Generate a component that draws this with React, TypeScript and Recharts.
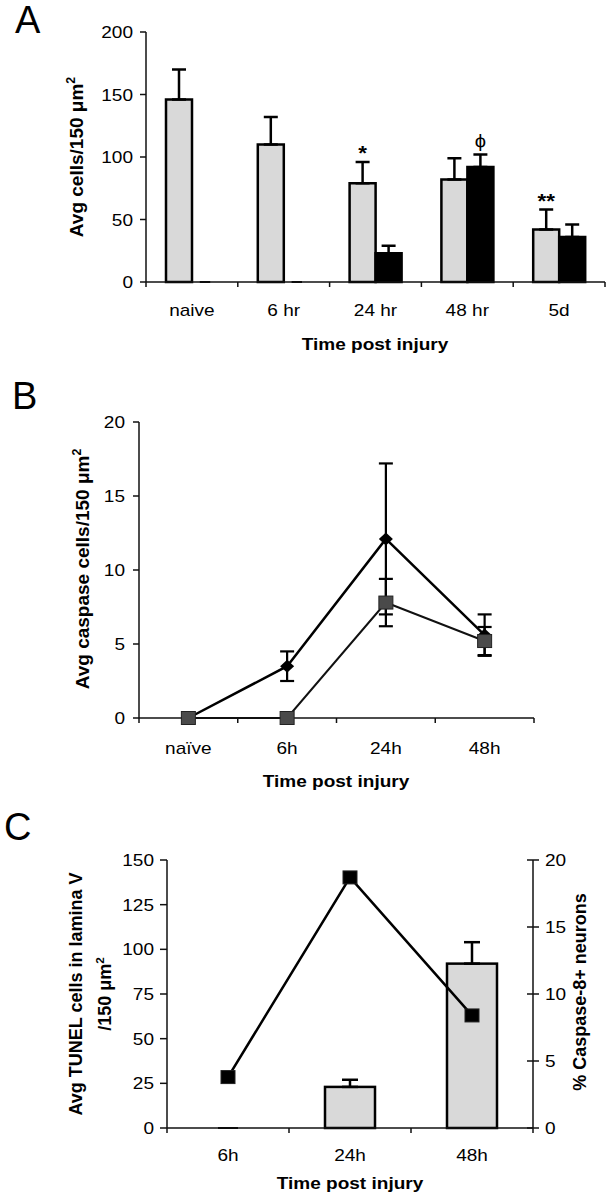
import React from "react";
import { Bar, ComposedChart, ErrorBar, Line, XAxis, YAxis } from "recharts";

const FONT = '"Liberation Sans", Arial, Helvetica, sans-serif';
const SX = 1.12; // type in the figure is drawn a little wide
const W = 614;

// A: cell counts per time point
const timeA = ["naive", "6 hr", "24 hr", "48 hr", "5d"];
const grayA = [146, 110, 79, 82, 42];
const grayErrA = [24, 22, 17, 17, 16];
const grayMarkA = ["", "", "*", "", "**"];
const blackA = [0, 0, 23, 92, 36];
const blackErrA = [0, 0, 6, 10, 10];
const blackMarkA = ["", "", "", "ϕ", ""];
const ticksA = [0, 50, 100, 150, 200];

// B: caspase cells
const timeB = ["naïve", "6h", "24h", "48h"];
const diamondB = [0, 3.5, 12.1, 5.6];
const diamondErrB = [0, 1.0, 5.1, 1.4];
const squareB = [0, 0, 7.8, 5.2];
const squareErrB = [0, 0, 1.6, 0.95];
const ticksB = [0, 5, 10, 15, 20];

// C: TUNEL cells (bars) and % caspase-8+ neurons (line)
const timeC = ["6h", "24h", "48h"];
const tunelC = [0, 23, 92];
const tunelErrC = [0, 4, 12];
const caspaseC = [3.8, 18.7, 8.4];
const ticksCLeft = [0, 25, 50, 75, 100, 125, 150];
const ticksCRight = [0, 5, 10, 15, 20];

const up = (e: number) => (e ? [0, e] : null);

const dataA = timeA.map((time, i) => ({
  time,
  gray: grayA[i],
  grayErr: up(grayErrA[i]),
  grayUp: grayErrA[i],
  grayMark: grayMarkA[i],
  black: blackA[i],
  blackErr: up(blackErrA[i]),
  blackUp: blackErrA[i],
  blackMark: blackMarkA[i],
}));

const dataB = timeB.map((time, i) => ({
  time,
  diamond: diamondB[i],
  diamondErr: diamondErrB[i],
  square: squareB[i],
  squareErr: squareErrB[i],
}));

const dataC = timeC.map((time, i) => ({
  time,
  tunel: tunelC[i],
  tunelErr: up(tunelErrC[i]),
  caspase: caspaseC[i],
}));

// layout
const A_YW = 146, A_MR = 9;
const B_YW = 139, B_MR = 80;
const C_YW = 167, C_RW = 81;
const bandA = (W - A_YW - A_MR) / timeA.length;
const bandB = (W - B_YW - B_MR) / timeB.length;
const bandC = (W - C_YW - C_RW) / timeC.length;

const AXIS = { stroke: "#111", strokeWidth: 1.5 };

function HText({ x, y, size = 17, bold = false, anchor = "middle", dy, children }: any) {
  return (
    <text
      transform={`translate(${x} ${y}) scale(${SX} 1)`}
      textAnchor={anchor}
      dy={dy}
      fontSize={size}
      fontWeight={bold ? 700 : 400}
      fontFamily={FONT}
      fill="#000"
    >
      {children}
    </text>
  );
}

function CatTick({ x, y, payload, index, band, dy }: any) {
  const right = x + band / 2;
  const left = x - band / 2;
  return (
    <g>
      {index === 0 ? <line x1={left} x2={left} y1={y} y2={y + 5} stroke="#111" strokeWidth={1.5} /> : null}
      <line x1={right} x2={right} y1={y} y2={y + 5} stroke="#111" strokeWidth={1.5} />
      <HText x={x} y={y + dy}>{payload.value}</HText>
    </g>
  );
}

function ValTick({ x, y, payload, len, gap, side = "left" }: any) {
  if (side === "right") {
    return (
      <g>
        <line x1={x - len} x2={x + len} y1={y} y2={y} stroke="#111" strokeWidth={1.5} />
        <HText x={x + gap} y={y} anchor="start" dy="0.36em">{payload.value}</HText>
      </g>
    );
  }
  return (
    <g>
      <line x1={x - len} x2={x} y1={y} y2={y} stroke="#111" strokeWidth={1.5} />
      <HText x={x - gap} y={y} anchor="end" dy="0.36em">{payload.value}</HText>
    </g>
  );
}

function MarkedBar(p: any) {
  const { x, y, width, height, fill, payload, valKey, upKey, markKey } = p;
  const val = payload[valKey];
  const mark = markKey ? payload[markKey] : "";
  const perUnit = val ? height / val : 0;
  const errTop = y - (payload[upKey] || 0) * perUnit;
  const star = mark && mark.includes("*");
  return (
    <g>
      {height > 0 ? (
        <rect x={x} y={y} width={width} height={height} fill={fill} stroke="#000" strokeWidth={2.5} />
      ) : (
        <line x1={x + width * 0.3} x2={x + width * 0.7} y1={y} y2={y} stroke="#000" strokeWidth={2} />
      )}
      {mark ? (
        <HText x={x + width / 2} y={errTop - (star ? 2 : 8)} size={star ? 20 : 18} bold={star}>
          {mark}
        </HText>
      ) : null}
    </g>
  );
}

function DiamondDot({ cx, cy }: any) {
  return <path d={`M${cx},${cy - 6.5} L${cx + 7},${cy} L${cx},${cy + 6.5} L${cx - 7},${cy} Z`} fill="#000" />;
}

function SquareDot({ cx, cy, fill = "#4a4a4a" }: any) {
  return <rect x={cx - 7} y={cy - 6.5} width={14} height={13} fill={fill} stroke="#222" strokeWidth={1} />;
}

function RotText({ x, y, size = 19, children }: any) {
  return (
    <text
      transform={`translate(${x} ${y}) rotate(-90)`}
      textAnchor="middle"
      dy="0.35em"
      fontSize={size}
      fontWeight={700}
      fontFamily={FONT}
      fill="#000"
    >
      {children}
    </text>
  );
}

const sup = (
  <tspan dy="-0.6em" fontSize="0.65em">
    2
  </tspan>
);

function Titles() {
  const letter = { fontSize: 38, fontFamily: FONT, fill: "#000" };
  return (
    <svg width={W} height={1199} style={{ position: "absolute", left: 0, top: 0, pointerEvents: "none" }}>
      <text x={15} y={33} {...letter}>A</text>
      <text x={12} y={409} {...letter}>B</text>
      <text x={4} y={840} {...letter}>C</text>

      <HText x={375} y={350} bold>Time post injury</HText>
      <RotText x={76} y={157}>Avg cells/150 μm{sup}</RotText>

      <HText x={336} y={787} bold>Time post injury</HText>
      <RotText x={82} y={569}>Avg caspase cells/150 μm{sup}</RotText>

      <HText x={350} y={1189} bold>Time post injury</HText>
      <RotText x={76} y={994} size={18}>Avg TUNEL cells  in lamina V</RotText>
      <RotText x={105} y={994} size={18}>/150 μm{sup}</RotText>
      <RotText x={580} y={992} size={18}>% Caspase-8+ neurons</RotText>
    </svg>
  );
}

function PanelA() {
  return (
    <ComposedChart width={W} height={360} data={dataA} margin={{ top: 32, right: A_MR, bottom: 0, left: 0 }} barGap={0}>
      <XAxis
        dataKey="time"
        height={78}
        interval={0}
        tickSize={0}
        tickMargin={0}
        tickLine={false}
        axisLine={AXIS}
        tick={(p: any) => <CatTick {...p} band={bandA} dy={34} />}
      />
      <YAxis
        width={A_YW}
        domain={[0, 200]}
        ticks={ticksA}
        interval={0}
        tickSize={0}
        tickMargin={0}
        tickLine={false}
        axisLine={AXIS}
        tick={(p: any) => <ValTick {...p} len={6} gap={13} />}
      />
      <Bar
        dataKey="gray"
        barSize={26}
        fill="#d9d9d9"
        isAnimationActive={false}
        shape={(p: any) => <MarkedBar {...p} valKey="gray" upKey="grayUp" markKey="grayMark" />}
      >
        <ErrorBar dataKey="grayErr" width={7} strokeWidth={2.5} stroke="#000" isAnimationActive={false} />
      </Bar>
      <Bar
        dataKey="black"
        barSize={26}
        fill="#000"
        isAnimationActive={false}
        shape={(p: any) => <MarkedBar {...p} valKey="black" upKey="blackUp" markKey="blackMark" />}
      >
        <ErrorBar dataKey="blackErr" width={7} strokeWidth={2.5} stroke="#000" isAnimationActive={false} />
      </Bar>
    </ComposedChart>
  );
}

function PanelB() {
  return (
    <ComposedChart width={W} height={420} data={dataB} margin={{ top: 62, right: B_MR, bottom: 0, left: 0 }}>
      <XAxis
        dataKey="time"
        scale="band"
        height={62}
        interval={0}
        tickSize={0}
        tickMargin={0}
        tickLine={false}
        axisLine={AXIS}
        tick={(p: any) => <CatTick {...p} band={bandB} dy={36} />}
      />
      <YAxis
        width={B_YW}
        domain={[0, 20]}
        ticks={ticksB}
        interval={0}
        tickSize={0}
        tickMargin={0}
        tickLine={false}
        axisLine={AXIS}
        tick={(p: any) => <ValTick {...p} len={6} gap={14} />}
      />
      <Line
        dataKey="diamond"
        stroke="#000"
        strokeWidth={2.5}
        isAnimationActive={false}
        activeDot={false}
        dot={(p: any) => <DiamondDot key={`d${p.index}`} {...p} />}
      >
        <ErrorBar dataKey="diamondErr" width={7} strokeWidth={2.2} stroke="#000" isAnimationActive={false} />
      </Line>
      <Line
        dataKey="square"
        stroke="#111"
        strokeWidth={2}
        isAnimationActive={false}
        activeDot={false}
        dot={(p: any) => <SquareDot key={`s${p.index}`} {...p} fill="#4a4a4a" />}
      >
        <ErrorBar dataKey="squareErr" width={7} strokeWidth={2.2} stroke="#000" isAnimationActive={false} />
      </Line>
    </ComposedChart>
  );
}

function PanelC() {
  return (
    <ComposedChart width={W} height={419} data={dataC} margin={{ top: 80, right: 0, bottom: 0, left: 0 }}>
      <XAxis
        dataKey="time"
        height={71}
        interval={0}
        tickSize={0}
        tickMargin={0}
        tickLine={false}
        axisLine={AXIS}
        tick={(p: any) => <CatTick {...p} band={bandC} dy={33} />}
      />
      <YAxis
        yAxisId="left"
        width={C_YW}
        domain={[0, 150]}
        ticks={ticksCLeft}
        interval={0}
        tickSize={0}
        tickMargin={0}
        tickLine={false}
        axisLine={AXIS}
        tick={(p: any) => <ValTick {...p} len={7} gap={13} />}
      />
      <YAxis
        yAxisId="right"
        orientation="right"
        width={C_RW}
        domain={[0, 20]}
        ticks={ticksCRight}
        interval={0}
        tickSize={0}
        tickMargin={0}
        tickLine={false}
        axisLine={AXIS}
        tick={(p: any) => <ValTick {...p} len={6} gap={12} side="right" />}
      />
      <Bar
        yAxisId="left"
        dataKey="tunel"
        barSize={50}
        fill="#d9d9d9"
        isAnimationActive={false}
        shape={(p: any) => <MarkedBar {...p} valKey="tunel" upKey="tunelUp" />}
      >
        <ErrorBar dataKey="tunelErr" width={8} strokeWidth={2.5} stroke="#000" isAnimationActive={false} />
      </Bar>
      <Line
        yAxisId="right"
        dataKey="caspase"
        stroke="#000"
        strokeWidth={2.5}
        isAnimationActive={false}
        activeDot={false}
        dot={(p: any) => <SquareDot key={`c${p.index}`} {...p} fill="#000" />}
      />
    </ComposedChart>
  );
}

export default function App() {
  return (
    <div style={{ position: "absolute", left: 0, top: 0, width: W, height: 1199, background: "#fff" }}>
      <div style={{ position: "absolute", left: 0, top: 0 }}>
        <PanelA />
      </div>
      <div style={{ position: "absolute", left: 0, top: 360 }}>
        <PanelB />
      </div>
      <div style={{ position: "absolute", left: 0, top: 780 }}>
        <PanelC />
      </div>
      <Titles />
    </div>
  );
}
